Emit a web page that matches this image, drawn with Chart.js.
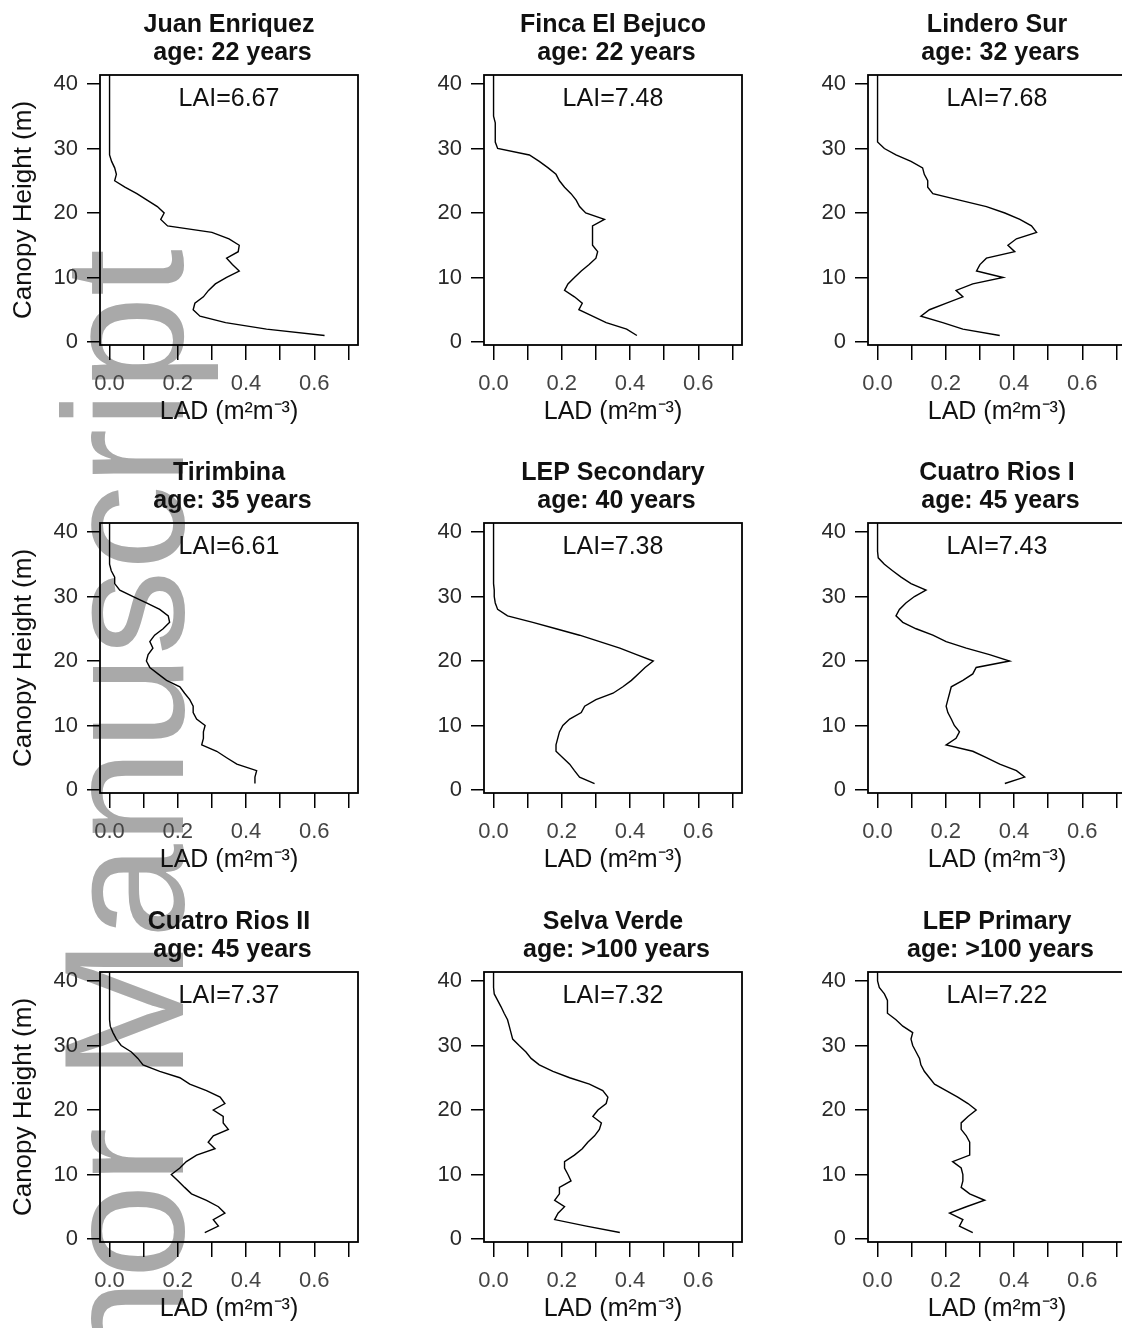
<!DOCTYPE html>
<html>
<head>
<meta charset="utf-8">
<script src="https://cdn.jsdelivr.net/npm/chart.js@4.4.1/dist/chart.umd.min.js"></script>
<style>
  html, body { margin: 0; padding: 0; background: #fff; overflow: hidden; width: 1122px; height: 1328px; }
  #wm {
    position: absolute; left: 39px; top: 249px;
    font: 170px/170px "Liberation Sans", Arial, sans-serif;
    color: #a9a9a9; white-space: nowrap;
    transform-origin: 0 0; transform: rotate(-90deg) translateX(-100%);
    z-index: 0;
  }
  canvas { position: absolute; z-index: 1; }
</style>
</head>
<body>
<div id="wm">Author Manuscript</div>
<script>
// heights (m) of each LAD layer, bottom to top
const heights = [1, 2, 3, 4, 5, 6, 7, 8, 9, 10, 11, 12, 13, 14, 15, 16, 17, 18, 19, 20,
                 21, 22, 23, 24, 25, 26, 27, 28, 29, 30, 31, 32, 33, 34, 35, 36, 37, 38, 39, 40, 41, 42];

const xTicks      = [0, 0.1, 0.2, 0.3, 0.4, 0.5, 0.6, 0.7];
const xTickLabels = ['0.0', '', '0.2', '', '0.4', '', '0.6', ''];
const yTicks      = [0, 10, 20, 30, 40];
const yTickLabels = ['0', '10', '20', '30', '40'];

const siteNames = ['Juan Enriquez', 'Finca El Bejuco', 'Lindero Sur',
                   'Tirimbina', 'LEP Secondary', 'Cuatro Rios I',
                   'Cuatro Rios II', 'Selva Verde', 'LEP Primary'];
const siteAges  = ['22 years', '22 years', '32 years',
                   '35 years', '40 years', '45 years',
                   '45 years', '>100 years', '>100 years'];
const laiValues = ['6.67', '7.48', '7.68', '6.61', '7.38', '7.43', '7.37', '7.32', '7.22'];

// LAD (m2 m-3) per height, bottom to top
const ladJuanEnriquez = [0.63, 0.46, 0.34, 0.265, 0.245, 0.25, 0.275, 0.29, 0.31, 0.343,
    0.38, 0.36, 0.343, 0.377, 0.38, 0.35, 0.30, 0.17, 0.15, 0.16,
    0.14, 0.11, 0.08, 0.045, 0.015, 0.02, 0.015, 0.006, 0, 0,
    0, 0, 0, 0, 0, 0, 0, 0, 0, 0, 0, 0];
const ladFincaElBejuco = [0.42, 0.39, 0.33, 0.29, 0.25, 0.26, 0.237, 0.208, 0.218, 0.237,
    0.257, 0.28, 0.30, 0.305, 0.29, 0.29, 0.29, 0.29, 0.325, 0.27,
    0.252, 0.242, 0.227, 0.208, 0.193, 0.183, 0.16, 0.134, 0.105, 0.012,
    0.005, 0.005, 0.005, 0.005, 0, 0, 0, 0, 0, 0, 0, 0];
const ladLinderoSur = [0.358, 0.25, 0.191, 0.127, 0.152, 0.20, 0.25, 0.23, 0.279, 0.368,
    0.29, 0.30, 0.319, 0.402, 0.382, 0.407, 0.466, 0.451, 0.417, 0.373,
    0.319, 0.24, 0.162, 0.147, 0.147, 0.137, 0.132, 0.098, 0.054, 0.02,
    0, 0, 0, 0, 0, 0, 0, 0, 0, 0, 0, 0];
const ladTirimbina = [0.426, 0.426, 0.431, 0.373, 0.343, 0.314, 0.27, 0.275, 0.275, 0.28,
    0.255, 0.245, 0.245, 0.235, 0.22, 0.206, 0.167, 0.142, 0.118, 0.108,
    0.113, 0.127, 0.118, 0.132, 0.157, 0.176, 0.172, 0.147, 0.108, 0.069,
    0.03, 0.015, 0.015, 0.005, 0, 0, 0, 0, 0, 0, 0, 0];
const ladLepSecondary = [0.296, 0.252, 0.237, 0.223, 0.203, 0.183, 0.183, 0.188, 0.193, 0.203,
    0.223, 0.257, 0.267, 0.30, 0.35, 0.379, 0.404, 0.424, 0.444, 0.468,
    0.419, 0.37, 0.311, 0.252, 0.183, 0.115, 0.041, 0.012, 0.005, 0.002,
    0.002, 0, 0, 0, 0, 0, 0, 0, 0, 0, 0, 0];
const ladCuatroRiosI = [0.373, 0.431, 0.407, 0.358, 0.319, 0.279, 0.201, 0.23, 0.24, 0.225,
    0.216, 0.206, 0.201, 0.206, 0.211, 0.216, 0.25, 0.279, 0.289, 0.387,
    0.328, 0.26, 0.201, 0.162, 0.113, 0.074, 0.054, 0.064, 0.083, 0.108,
    0.142, 0.098, 0.069, 0.044, 0.02, 0.002, 0, 0, 0, 0, 0, 0];
const ladCuatroRiosII = [0.279, 0.319, 0.304, 0.338, 0.319, 0.284, 0.24, 0.22, 0.201, 0.181,
    0.206, 0.225, 0.255, 0.309, 0.289, 0.304, 0.348, 0.333, 0.333, 0.304,
    0.338, 0.324, 0.284, 0.235, 0.206, 0.147, 0.098, 0.083, 0.064, 0.034,
    0.02, 0.01, 0.002, 0, 0, 0, 0, 0, 0, 0, 0, 0];
const ladSelvaVerde = [0.37, 0.272, 0.179, 0.189, 0.208, 0.179, 0.193, 0.193, 0.227, 0.218,
    0.208, 0.208, 0.237, 0.26, 0.276, 0.296, 0.31, 0.316, 0.291, 0.306,
    0.33, 0.335, 0.32, 0.281, 0.223, 0.174, 0.134, 0.11, 0.095, 0.075,
    0.056, 0.051, 0.046, 0.041, 0.031, 0.022, 0.012, 0.002, 0, 0, 0, 0];
const ladLepPrimary = [0.279, 0.24, 0.25, 0.211, 0.26, 0.314, 0.27, 0.245, 0.25, 0.25,
    0.245, 0.22, 0.27, 0.27, 0.27, 0.26, 0.245, 0.245, 0.265, 0.289,
    0.265, 0.235, 0.201, 0.167, 0.152, 0.137, 0.127, 0.123, 0.113, 0.103,
    0.098, 0.103, 0.074, 0.054, 0.029, 0.029, 0.029, 0.02, 0.005, 0, 0, 0];

const ladSeries = [ladJuanEnriquez, ladFincaElBejuco, ladLinderoSur,
                   ladTirimbina, ladLepSecondary, ladCuatroRiosI,
                   ladCuatroRiosII, ladSelvaVerde, ladLepPrimary];

const FONT = '"Liberation Sans", Arial, Helvetica, sans-serif';
Chart.defaults.font.family = FONT;
Chart.defaults.color = '#222';

const ROW_TOP = [0, 448, 897];
const COL_LEFT = [0, 384, 768];

// box around the plot region + the LAI note inside it
const framePlugin = {
    id: 'frame',
    afterDraw(chart, args, opts) {
        const { ctx, chartArea: a, scales } = chart;
        ctx.save();
        ctx.strokeStyle = '#000';
        ctx.lineWidth = 1.8;
        ctx.strokeRect(a.left, a.top, a.width, a.height);
        ctx.font = '25px ' + FONT;
        ctx.fillStyle = '#111';
        ctx.textAlign = 'center';
        ctx.textBaseline = 'middle';
        ctx.fillText('LAI=' + opts.lai, (a.left + a.right) / 2, scales.y.getPixelForValue(37.7));
        ctx.restore();
    }
};

siteNames.forEach((name, i) => {
    const row = Math.floor(i / 3), col = i % 3;
    const cv = document.createElement('canvas');
    cv.width = 380; cv.height = 448;
    cv.style.left = COL_LEFT[col] + 'px';
    cv.style.top  = ROW_TOP[row] + 'px';
    document.body.appendChild(cv);

    new Chart(cv.getContext('2d'), {
        type: 'scatter',
        data: {
            datasets: [{
                data: heights.map((h, k) => ({ x: ladSeries[i][k], y: h })),
                showLine: true, borderColor: '#000', borderWidth: 1.4,
                pointRadius: 0, pointHoverRadius: 0, tension: 0, fill: false
            }]
        },
        options: {
            responsive: false, animation: false, devicePixelRatio: 1,
            events: [],
            layout: { padding: { left: 0, right: 22, top: 0, bottom: 0 } },
            plugins: {
                legend: { display: false },
                tooltip: { enabled: false },
                title: {
                    display: true, fullSize: false,
                    text: [name, ' age: ' + siteAges[i]],
                    color: '#111',
                    font: { size: 25, weight: 'bold', lineHeight: 1.12 },
                    padding: { top: 11, bottom: 8 }
                },
                frame: { lai: laiValues[i] }
            },
            scales: {
                x: {
                    type: 'linear', position: 'bottom', min: -0.028, max: 0.728,
                    afterBuildTicks: s => { s.ticks = xTicks.map(v => ({ value: v })); },
                    afterFit: s => { s.height = 103; },
                    grid: { drawOnChartArea: false, tickLength: 15, color: '#000', lineWidth: 1.5 },
                    border: { display: false },
                    ticks: {
                        autoSkip: false, maxRotation: 0, padding: 11, color: '#444',
                        font: { size: 22 },
                        callback: (v, k) => xTickLabels[k]
                    },
                    title: {
                        display: true, text: 'LAD (m²m⁻³)', color: '#111',
                        font: { size: 25 }, padding: { top: 0, bottom: 21 }
                    }
                },
                y: {
                    type: 'linear', position: 'left', min: -0.47, max: 41.4,
                    afterBuildTicks: s => { s.ticks = yTicks.map(v => ({ value: v })); },
                    afterFit: s => { s.width = 100; },
                    grid: { drawOnChartArea: false, tickLength: 13, color: '#000', lineWidth: 1.5 },
                    border: { display: false },
                    ticks: {
                        padding: 9, color: '#2a2a2a', font: { size: 22 },
                        callback: (v, k) => yTickLabels[k]
                    },
                    title: {
                        display: col === 0, text: 'Canopy Height (m)', color: '#111',
                        font: { size: 26 }, padding: { top: 8, bottom: 0 }
                    }
                }
            }
        },
        plugins: [framePlugin]
    });
});
</script>
</body>
</html>
